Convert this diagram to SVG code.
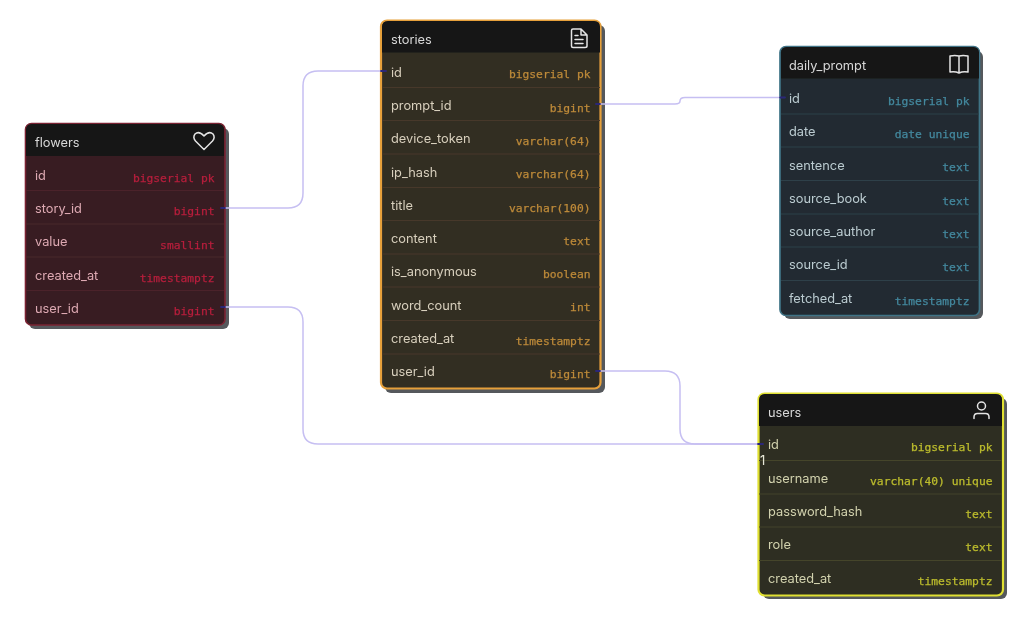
<svg xmlns="http://www.w3.org/2000/svg" width="1027" height="617" viewBox="0 0 1027 617">
<style>
.shadow{fill:#54585b}
.hdr{fill:#161616}
.name{font:12.8px Inter,"Liberation Sans",sans-serif;}
.title{font:12.8px Inter,"Liberation Sans",sans-serif;fill:#d8d8d8}
.type{font:11.3px "DejaVu Sans Mono","Liberation Mono",monospace;text-anchor:end;stroke-width:.25}
.div{stroke-width:1;fill:none}
.ico{fill:none;stroke:#e4e4e4;stroke-width:1.5;stroke-linecap:round;stroke-linejoin:round}
.edge{fill:none;stroke:#c6bff2;stroke-width:1.5}
.end{fill:none;stroke:#2c2878;stroke-width:1.8;stroke-linecap:round}
.red .body{fill:#371e23;stroke:#7a2232;stroke-width:1.6}.red .name{fill:#dfa9b3}.red .type{fill:#b81e3c;stroke:#b81e3c}.red .div{stroke:#4b242b}
.org .body{fill:#322d24;stroke:#e6a03a;stroke-width:2.200}.org .name{fill:#d8d0bc}.org .type{fill:#bd8a38;stroke:#bd8a38}.org .div{stroke:#46382a}
.blu .body{fill:#212c32;stroke:#3f7386;stroke-width:1.700}.blu .name{fill:#bccbd1}.blu .type{fill:#44889f;stroke:#44889f}.blu .div{stroke:#2f4048}
.yel .body{fill:#2f2f22;stroke:#e0e030;stroke-width:2.200}.yel .name{fill:#d2d2ae}.yel .type{fill:#bcbc2e;stroke:#bcbc2e}.yel .div{stroke:#44452c}
</style>
<defs><filter id="soft" x="0" y="0" width="1027" height="617" filterUnits="userSpaceOnUse"><feGaussianBlur stdDeviation="0.4"/></filter></defs>
<g filter="url(#soft)">
<g id="flowers" class="red">
<rect class="shadow" x="29" y="128" width="200" height="201" rx="6"/>
<rect class="body" x="25.500" y="123.500" width="199.500" height="201.500" rx="6"/>
<path class="hdr" d="M26 156V130Q26 124 32 124H218Q224 124 224 130V156Z"/>
<path class="div" d="M26 190.500H224M26 224H224M26 257H224M26 290.500H224"/>
<text class="title" x="35" y="146.500">flowers</text>
<path class="ico" d="M204 149.500L195.500 141Q192.500 137.500 195 134Q199 130.500 204 136Q209 130.500 213 134Q215.500 137.500 212.500 141Z"/>
<text class="name" x="35" y="180">id</text><text class="type" x="214.500" y="182">bigserial pk</text>
<text class="name" x="35" y="213">story_id</text><text class="type" x="214.500" y="215">bigint</text>
<text class="name" x="35" y="246">value</text><text class="type" x="214.500" y="248.500">smallint</text>
<text class="name" x="35" y="279.500">created_at</text><text class="type" x="214.500" y="281.500">timestamptz</text>
<text class="name" x="35" y="313">user_id</text><text class="type" x="214.500" y="315">bigint</text>
</g>
<g id="stories" class="org">
<rect class="shadow" x="385" y="25" width="220" height="368" rx="6"/>
<rect class="body" x="381" y="20.500" width="219.500" height="368" rx="6"/>
<path class="hdr" d="M382 52.500V27Q382 21 388 21H594Q600 21 600 27V52.500Z"/>
<path class="div" d="M382 87.500H600M382 120.500H600M382 154H600M382 187.500H600M382 220.500H600M382 254H600M382 287H600M382 320.500H600M382 354H600"/>
<text class="title" x="391" y="43.500">stories</text>
<path class="ico" d="M573 29H581L587 35V46Q587 47.500 585 47.500H573Q571.500 47.500 571.500 46V30.500Q571.500 29 573 29ZM581 29V35H587M575 35.500H578M575 39.500H583M575 43.500H583"/>
<text class="name" x="391" y="76.500">id</text><text class="type" x="590.500" y="78">bigserial pk</text>
<text class="name" x="391" y="110">prompt_id</text><text class="type" x="590.500" y="111.500">bigint</text>
<text class="name" x="391" y="143">device_token</text><text class="type" x="590.500" y="145">varchar(64)</text>
<text class="name" x="391" y="176.500">ip_hash</text><text class="type" x="590.500" y="178">varchar(64)</text>
<text class="name" x="391" y="209.500">title</text><text class="type" x="590.500" y="211.500">varchar(100)</text>
<text class="name" x="391" y="243">content</text><text class="type" x="590.500" y="245">text</text>
<text class="name" x="391" y="276">is_anonymous</text><text class="type" x="590.500" y="278">boolean</text>
<text class="name" x="391" y="309.500">word_count</text><text class="type" x="590.500" y="311">int</text>
<text class="name" x="391" y="343">created_at</text><text class="type" x="590.500" y="344.500">timestamptz</text>
<text class="name" x="391" y="376">user_id</text><text class="type" x="590.500" y="378">bigint</text>
</g>
<g id="daily_prompt" class="blu">
<rect class="shadow" x="784" y="51" width="199" height="268" rx="6"/>
<rect class="body" x="780" y="46.500" width="199.500" height="269" rx="6"/>
<path class="hdr" d="M781 78.500V53Q781 47 787 47H973Q979 47 979 53V78.500Z"/>
<path class="div" d="M781 114H979M781 147H979M781 180.500H979M781 214H979M781 247H979M781 280.500H979"/>
<text class="title" x="789" y="70">daily_prompt</text>
<path class="ico" d="M959 56V73M959 56Q955 55 950 56V72Q955 71 959 73Q963 71 968 72V56Q963 55 959 56Z"/>
<text class="name" x="789" y="103">id</text><text class="type" x="969.500" y="104.500">bigserial pk</text>
<text class="name" x="789" y="136">date</text><text class="type" x="969.500" y="138">date unique</text>
<text class="name" x="789" y="169.500">sentence</text><text class="type" x="969.500" y="171">text</text>
<text class="name" x="789" y="203">source_book</text><text class="type" x="969.500" y="204.500">text</text>
<text class="name" x="789" y="236">source_author</text><text class="type" x="969.500" y="238">text</text>
<text class="name" x="789" y="269">source_id</text><text class="type" x="969.500" y="271">text</text>
<text class="name" x="789" y="302.500">fetched_at</text><text class="type" x="969.500" y="304.500">timestamptz</text>
</g>
<g id="users" class="yel">
<rect class="shadow" x="763" y="398" width="244" height="201" rx="6"/>
<rect class="body" x="758.500" y="393.500" width="244.500" height="202" rx="6"/>
<path class="hdr" d="M759 426V400Q759 394 765 394H996Q1002 394 1002 400V426Z"/>
<path class="div" d="M759 460.500H1002M759 494H1002M759 527H1002M759 560.500H1002"/>
<text class="title" x="768" y="417">users</text>
<circle class="ico" cx="981.500" cy="406" r="4"/>
<path class="ico" d="M974 418.500V417Q974 413.500 977.500 413.500H985.500Q989 413.500 989 417V418.500"/>
<text class="name" x="768" y="449">id</text><text class="type" x="992.500" y="451">bigserial pk</text>
<text class="name" x="768" y="483">username</text><text class="type" x="992.500" y="484.500">varchar(40) unique</text>
<text class="name" x="768" y="516">password_hash</text><text class="type" x="992.500" y="518">text</text>
<text class="name" x="768" y="549">role</text><text class="type" x="992.500" y="551">text</text>
<text class="name" x="768" y="582.500">created_at</text><text class="type" x="992.500" y="584.500">timestamptz</text>
<text x="760" y="465" style="font:13px Inter,'Liberation Sans',sans-serif;fill:#e6e6d8">1</text>
</g>
<g id="connectors">
<path class="edge" d="M225 208H288Q303 208 303 193V86Q303 71 318 71H381"/>
<path class="edge" d="M225 307H288Q303 307 303 322V429Q303 444 318 444H758"/>
<path class="edge" d="M600 104H675Q680 104 680 101Q680 97.500 685 97.500H780"/>
<path class="edge" d="M600 371H665Q680 371 680 386V429Q680 444 695 444H758"/>
<path class="end" d="M221 208H225M221 307H225M386 71H381M596 104H600M596 371H600M785 97.500H780M763 444H758"/>
</g>
</g>
</svg>
